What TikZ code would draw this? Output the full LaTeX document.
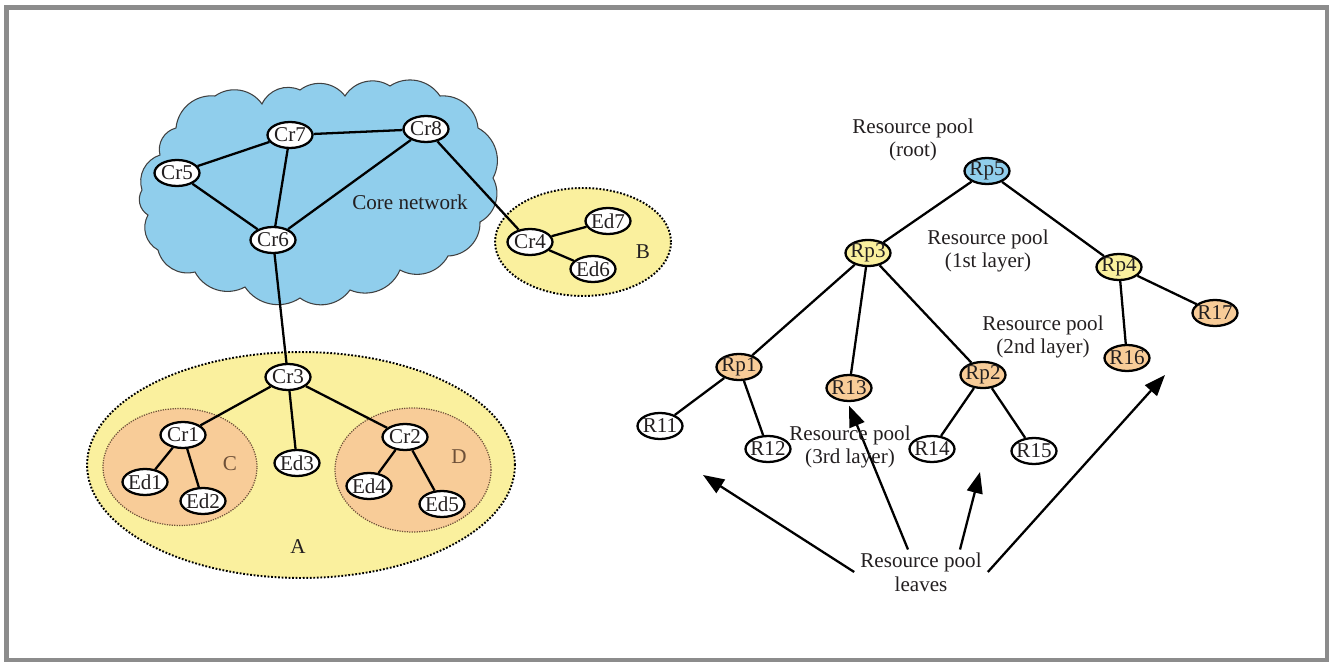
\documentclass[tikz,border=0pt]{standalone}
\usepackage{fontspec}
\setmainfont{Liberation Serif}
\usetikzlibrary{arrows.meta,shapes.geometric,calc}
\definecolor{cloudblue}{HTML}{90CEEC}
\definecolor{zoneyel}{HTML}{FAF09E}
\definecolor{zoneorg}{HTML}{F8CC98}
\definecolor{framegray}{HTML}{8C8C8C}
\definecolor{zonedot}{HTML}{6E5038}
\definecolor{inkgray}{HTML}{231F20}

\begin{document}
\begin{tikzpicture}[x=0.02cm,y=-0.02cm,font=\fontsize{12}{13.5}\selectfont,
    nd/.style={ellipse,draw,line width=1.3pt,fill=white,inner xsep=-1.5pt,inner ysep=0pt,
      minimum width=0.9cm,minimum height=0.52cm,text=inkgray},
    zone/.style={ellipse,draw,dash pattern=on 1pt off 1pt,line width=1.1pt},
    link/.style={line width=1.3pt},
    hint/.style={align=center,text=inkgray},
    pointer/.style={line width=1.3pt,-{Triangle[length=12pt,width=9pt]}}]
  \useasboundingbox (0,0) rectangle (1329,662);
  \draw[framegray,line width=2.6pt] (6.5,7.5) rectangle (1327,660);

  % core network cloud
  \fill[cloudblue,draw=black!75,line width=0.6pt]
    (142,190) to[bend left=45] (160,155) to[bend left=45] (176,128)
    to[bend left=45] (215,96) to[bend left=45] (262,104) to[bend left=45] (300,90)
    to[bend left=45] (345,96) to[bend left=45] (390,86) to[bend left=45] (440,96)
    to[bend left=45] (478,128) to[bend left=45] (493,178) to[bend left=45] (480,222)
    to[bend left=45] (448,256) to[bend left=45] (400,270) to[bend left=45] (350,290)
    to[bend left=45] (300,298) to[bend left=45] (245,287) to[bend left=45] (195,272)
    to[bend left=45] (158,250) to[bend left=45] (148,215) to[bend left=45] (142,190) -- cycle;
  \node[hint] at (410,202) {Core network};

  % access zones
  \node[zone,fill=zoneyel,minimum width=3.52cm,minimum height=2.16cm] (zoneB) at (583,242) {};
  \node[zone,fill=zoneyel,minimum width=8.56cm,minimum height=4.52cm] (zoneA) at (301,465) {};
  \node[zone,draw=zonedot,fill=zoneorg,line width=0.7pt,dash pattern=on 0.7pt off 0.7pt,
    minimum width=3.08cm,minimum height=2.34cm] (zoneC) at (180,467) {};
  \node[zone,draw=zonedot,fill=zoneorg,line width=0.7pt,dash pattern=on 0.7pt off 0.7pt,
    minimum width=3.12cm,minimum height=2.48cm] (zoneD) at (413,470) {};
  \node[hint] at (643,252) {B};
  \node[hint] at (298,547) {A};
  \node[hint,text=zonedot] at (230,464) {C};
  \node[hint,text=zonedot] at (459,457) {D};

  % routers and edge devices
  \node[nd] (cr7) at (290,135) {Cr7};
  \node[nd] (cr8) at (426,129) {Cr8};
  \node[nd] (cr5) at (177,173) {Cr5};
  \node[nd] (cr6) at (273,240) {Cr6};
  \node[nd] (cr4) at (530,242) {Cr4};
  \node[nd] (ed7) at (608,221) {Ed7};
  \node[nd] (ed6) at (593,269) {Ed6};
  \node[nd] (cr3) at (288,377) {Cr3};
  \node[nd] (cr1) at (183,435) {Cr1};
  \node[nd] (ed1) at (145,482) {Ed1};
  \node[nd] (ed2) at (203,501) {Ed2};
  \node[nd] (ed3) at (297,463) {Ed3};
  \node[nd] (cr2) at (405,437) {Cr2};
  \node[nd] (ed4) at (369,486) {Ed4};
  \node[nd] (ed5) at (442,504) {Ed5};

  \foreach \a/\b in {cr5/cr7,cr7/cr8,cr5/cr6,cr7/cr6,cr8/cr6,cr8/cr4,cr4/ed7,cr4/ed6,
      cr6/cr3,cr3/cr1,cr3/ed3,cr3/cr2,cr1/ed1,cr1/ed2,cr2/ed4,cr2/ed5}
    {\draw[link] (\a) -- (\b);}

  % resource pool tree
  \node[nd,fill=cloudblue] (rp5) at (987,171) {Rp5};
  \node[nd,fill=zoneyel] (rp3) at (868,253) {Rp3};
  \node[nd,fill=zoneyel] (rp4) at (1119,267) {Rp4};
  \node[nd,fill=zoneorg] (rp1) at (739,367) {Rp1};
  \node[nd,fill=zoneorg] (r13) at (849,388) {R13};
  \node[nd,fill=zoneorg] (rp2) at (983,375) {Rp2};
  \node[nd,fill=zoneorg] (r16) at (1127,358) {R16};
  \node[nd,fill=zoneorg] (r17) at (1215,313) {R17};
  \node[nd] (r11) at (660,426) {R11};
  \node[nd] (r12) at (768,449) {R12};
  \node[nd] (r14) at (932,449) {R14};
  \node[nd] (r15) at (1034,451) {R15};

  \foreach \a/\b in {rp5/rp3,rp5/rp4,rp3/rp1,rp3/r13,rp3/rp2,rp1/r11,rp1/r12,
      rp2/r14,rp2/r15,rp4/r16,rp4/r17}
    {\draw[link] (\a) -- (\b);}

  \node[hint] at (913,140) {Resource pool\\(root)};
  \node[hint] at (988,251) {Resource pool\\(1st layer)};
  \node[hint] at (1043,337) {Resource pool\\(2nd layer)};

  % leaves and their pointers
  \node[hint] (leaves) at (921,572) {Resource pool\\leaves};
  \coordinate (tipL) at (703,475);
  \coordinate (tipM) at (980,472);
  \coordinate (tipR) at (1165,375);
  \draw[pointer] (leaves.west) -- (tipL);
  \draw[pointer] ($(leaves.north)+(-13,3)$) -- ([yshift=-2pt]r13.south);
  \draw[pointer] ($(leaves.north)+(39,3)$) -- (tipM);
  \draw[pointer] (leaves.east) -- (tipR);
  \node[hint] at (850,447) {Resource pool\\(3rd layer)};
\end{tikzpicture}
\end{document}
